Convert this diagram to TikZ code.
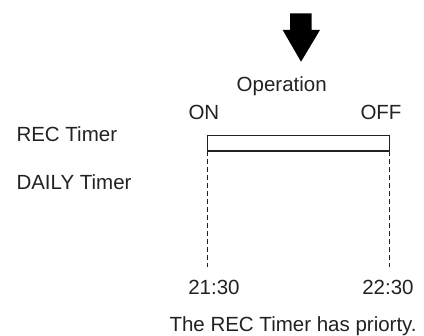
\documentclass[tikz,border=0pt]{standalone}
\usepackage{fontspec}
\setmainfont{Liberation Sans}
\definecolor{ink}{HTML}{222222}
\tikzset{
  lbl/.style={inner sep=0pt, outer sep=0pt, text=ink, font=\fontsize{20.5}{24}\selectfont},
  bar/.style={draw=ink, line width=1.3pt, inner sep=0pt, outer sep=0pt},
  guide/.style={draw=ink, line width=1pt, dash pattern=on 5pt off 3pt}
}
\begin{document}
\begin{tikzpicture}[x=1pt,y=-1pt]
\useasboundingbox (0,0) rectangle (424,336);
% big arrow
\fill[black] (290,13.3) -- (311.7,13.3) -- (311.7,30) -- (320,30) -- (301,61.7) -- (282.7,30) -- (290,30) -- cycle;
\node[lbl, anchor=base] (op) at (281.7,91.7) {Operation};
\node[lbl, anchor=base west] (on) at (188.5,119.3) {ON};
\node[lbl, anchor=base east] (off) at (401.5,119.3) {OFF};
\node[lbl, anchor=base west] (rect) at (16.5,141.7) {REC Timer};
\node[lbl, anchor=base west] (daily) at (16.5,189.5) {DAILY Timer};
\node[bar, anchor=north west, minimum width=182pt, minimum height=15.7pt] (rec) at (207.5,135.2) {};
\node[lbl, anchor=base] (t1) at (214,295) {21:30};
\node[lbl, anchor=base] (t2) at (388,295) {22:30};
\node[lbl, anchor=base west] (note) at (169.5,331.7) {The REC Timer has priorty.};
\coordinate (e1) at (207.5,267);
\coordinate (e2) at (389.5,267);
\draw[guide] (rec.south west) -- (e1);
\draw[guide] (rec.south east) -- (e2);
\end{tikzpicture}
\end{document}
